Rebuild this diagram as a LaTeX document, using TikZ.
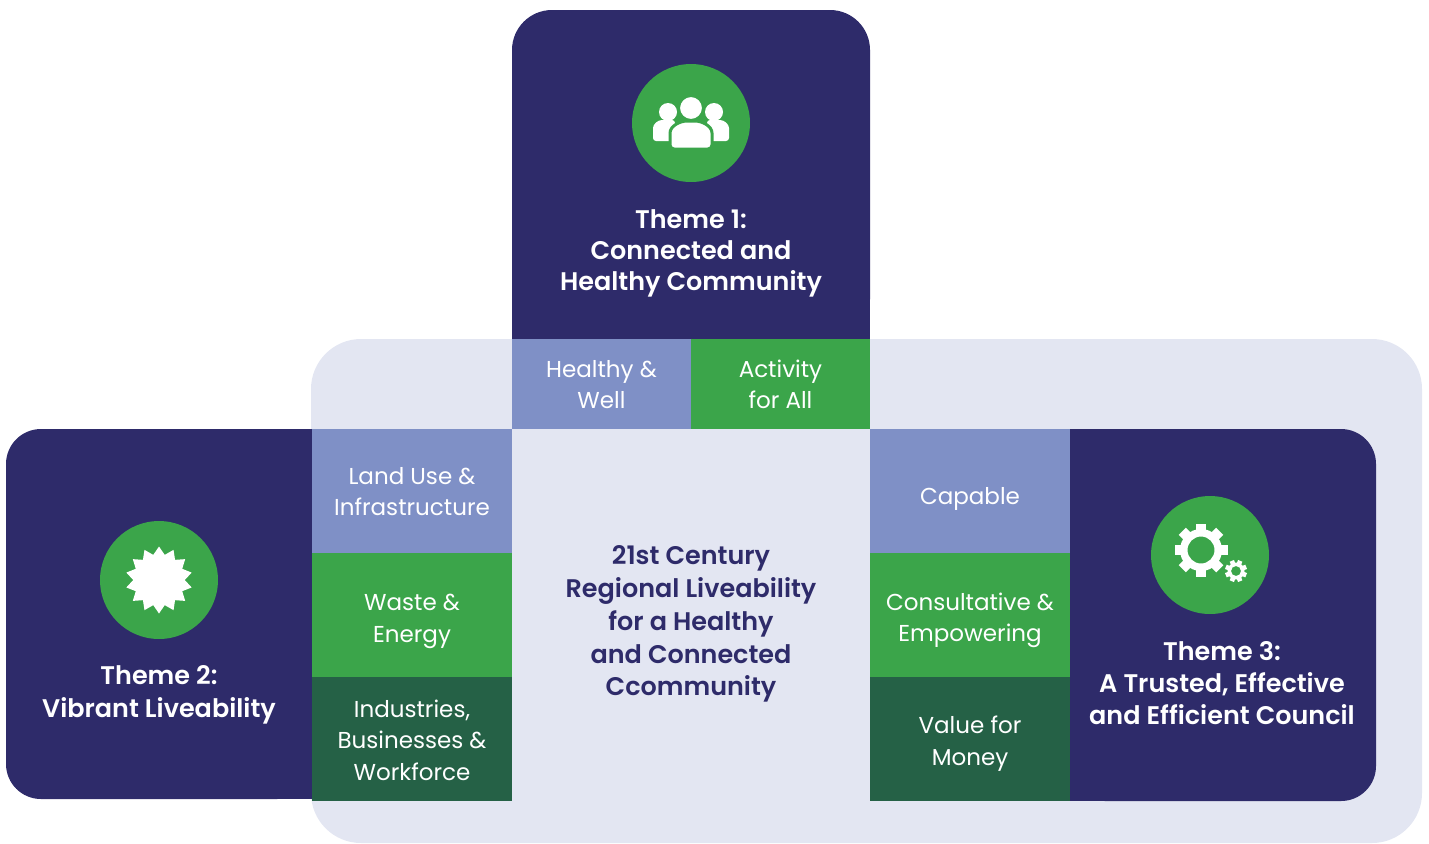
\documentclass[tikz,border=0pt]{standalone}
\usepackage{fontspec}
\setmainfont{Poppins}[BoldFont={Poppins SemiBold}]
\usetikzlibrary{positioning,shapes.geometric}

\definecolor{navy}{HTML}{2E2B6A}
\definecolor{paleblue}{HTML}{E3E6F2}
\definecolor{midblue}{HTML}{7F90C6}
\definecolor{leafgreen}{HTML}{3BA54A}
\definecolor{darkgreen}{HTML}{256146}

% cell text, set a little below the middle of its cell
\newcommand{\celltext}[2][2.5pt]{\raisebox{-#1}[\height][\depth]{\begin{tabular}{@{}c@{}}#2\end{tabular}}}

\tikzset{
  cellbox/.style={inner sep=0pt, outer sep=0pt, minimum width=4cm, minimum height=2.48cm, text=white, font=\fontsize{13.1}{17.8}\selectfont},
  topcell/.style={cellbox, minimum width=3.58cm, minimum height=1.8cm},
  themetext/.style={text=white, align=center, font=\bfseries\fontsize{14.5}{17.6}\selectfont},
  iconcircle/.style={circle, fill=leafgreen, minimum size=2.36cm, inner sep=0pt},
}

\begin{document}
\begin{tikzpicture}[x=0.02cm, y=-0.02cm]
\useasboundingbox (0,0) rectangle (1429,843);

% background
\fill[paleblue, rounded corners=1cm] (311,339) rectangle (1422,843);

% theme boxes
\fill[navy, rounded corners=0.8cm] (512,10) rectangle (870,339);
\fill[navy] (512,200) rectangle (870,339);

\fill[navy, rounded corners=0.7cm] (6,429) rectangle (312,799);
\fill[navy] (200,429) rectangle (312,799);

\fill[navy, rounded corners=0.7cm] (1070,429) rectangle (1376,801);
\fill[navy] (1070,429) rectangle (1200,801);

% cells
\node[topcell, fill=midblue] (healthy) at (601.5,384) {\celltext[1.5pt]{Healthy \&\\Well}};
\node[topcell, fill=leafgreen, right=0pt of healthy] (activity) {\celltext[1.5pt]{Activity\\for All}};

\node[cellbox, fill=midblue] (landuse) at (412,491) {\celltext[1.5pt]{Land Use \&\\Infrastructure}};
\node[cellbox, fill=leafgreen, below=0pt of landuse] (waste) {\celltext[3pt]{Waste \&\\Energy}};
\node[cellbox, fill=darkgreen, below=0pt of waste] (industries) {\celltext[2pt]{Industries,\\Businesses \&\\Workforce}};

\node[cellbox, fill=midblue] (capable) at (970,491) {\celltext[4pt]{Capable}};
\node[cellbox, fill=leafgreen, below=0pt of capable] (consult) {\celltext[2.5pt]{Consultative \&\\Empowering}};
\node[cellbox, fill=darkgreen, below=0pt of consult] (value) {\celltext[2.5pt]{Value for\\Money}};

% texts
\node[text=navy, align=center, font=\bfseries\fontsize{14.5}{18.7}\selectfont] (vision) at (691,624) {21st Century\\Regional Liveability\\for a Healthy\\and Connected\\Ccommunity};
\node[themetext] (theme1) at (691,253) {Theme 1:\\Connected and\\Healthy Community};
\node[themetext, font=\bfseries\fontsize{14.5}{18.7}\selectfont] (theme2) at (159,695) {Theme 2:\\Vibrant Liveability};
\node[themetext, font=\bfseries\fontsize{14.5}{18.4}\selectfont] (theme3) at (1222,683) {Theme 3:\\A Trusted, Effective\\and Efficient Council};

% icons
\node[iconcircle] (peopleicon) at (691,123) {};
\fill[white] (668,112) circle (0.18cm) (714,112) circle (0.18cm);
\fill[white, rounded corners=0.06cm] (653,141) -- (653,131) .. controls (653,124) and (658,120) .. (665,120) -- (675,120) -- (675,141) -- cycle;
\fill[white, rounded corners=0.06cm] (729,141) -- (729,131) .. controls (729,124) and (724,120) .. (717,120) -- (707,120) -- (707,141) -- cycle;
\filldraw[white, draw=leafgreen, line width=0.06cm, rounded corners=0.08cm] (670,149) -- (670,137) .. controls (670,126) and (680,121) .. (691,121) .. controls (702,121) and (712,126) .. (712,137) -- (712,149) -- cycle;
\filldraw[white, draw=leafgreen, line width=0.06cm] (691,108) circle (0.25cm);

\node[iconcircle] (sunicon) at (159,580) {};
\node[star, star points=14, star point ratio=1.3, fill=white, minimum size=1.34cm, inner sep=0pt] (sun) at (sunicon) {};

\node[iconcircle] (gearicon) at (1210,555) {};
\fill[white, even odd rule] (1201,550) circle (0.42cm) (1201,550) circle (0.27cm);
\foreach \a in {0,45,...,315}
  \fill[white, shift={(1201,550)}, rotate=\a] (-5,17) rectangle (5,26.5);
\fill[white, even odd rule] (1236,571) circle (0.17cm) (1236,571) circle (0.1cm);
\foreach \a in {22.5,67.5,...,337.5}
  \fill[white, shift={(1236,571)}, rotate=\a] (-2.3,7) rectangle (2.3,11);
\end{tikzpicture}
\end{document}
